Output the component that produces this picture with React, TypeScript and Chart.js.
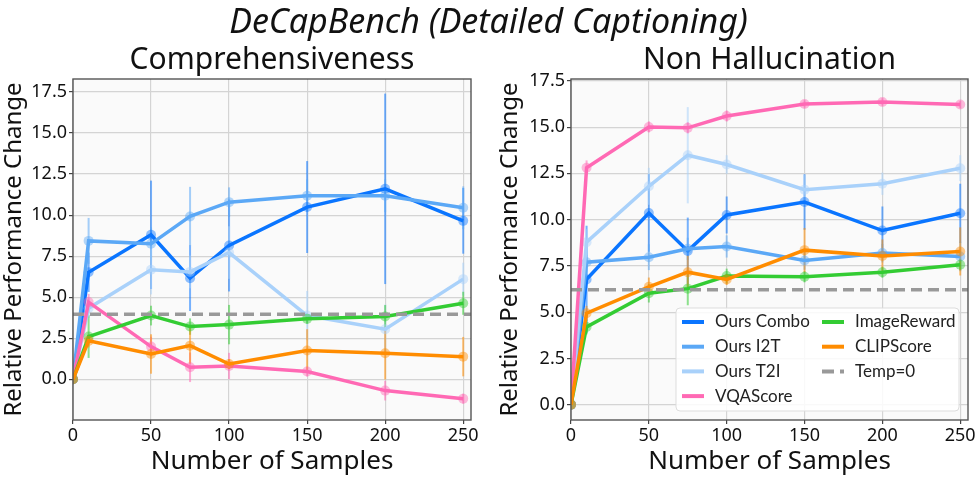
import { useEffect, useRef } from "react";
import { Chart, registerables } from "chart.js";

Chart.register(...registerables);

// ---------------- data ----------------
const SAMPLES = [0, 10, 50, 75, 100, 150, 200, 250];
const X_TICKS = [0, 50, 100, 150, 200, 250];
const Y_TICKS = [0, 2.5, 5, 7.5, 10, 12.5, 15, 17.5];
const SERIES_NAMES = ["Ours Combo", "Ours I2T", "Ours T2I", "VQAScore", "ImageReward", "CLIPScore"];
const TEMP_LABEL = "Temp=0";
const MAIN_TITLE = "DeCapBench (Detailed Captioning)";
const X_TITLE = "Number of Samples";
const Y_TITLE = "Relative Performance Change";

// Comprehensiveness
const COMP_TITLE = "Comprehensiveness";
const COMP_COMBO = [0, 6.52, 8.8, 6.16, 8.15, 10.49, 11.6, 9.65];
const COMP_I2T = [0, 8.43, 8.25, 9.92, 10.79, 11.18, 11.18, 10.45];
const COMP_T2I = [0, 4.33, 6.67, 6.54, 7.72, 3.88, 3.05, 6.1];
const COMP_VQA = [0, 4.7, 1.99, 0.73, 0.81, 0.47, -0.69, -1.18];
const COMP_IR = [0, 2.6, 3.88, 3.21, 3.33, 3.68, 3.82, 4.63];
const COMP_CLIP = [0, 2.34, 1.54, 2.05, 0.93, 1.75, 1.59, 1.38];
const COMP_COMBO_ERR = [0, 1.2, 3.3, 2.0, 2.8, 2.8, 5.8, 2.0];
const COMP_I2T_ERR = [0, 1.4, 1.0, 1.8, 0.9, 1.0, 1.0, 1.3];
const COMP_T2I_ERR = [0, 0.6, 1.5, 1.0, 1.6, 1.5, 1.5, 1.0];
const COMP_VQA_ERR = [0, 0.5, 0.6, 0.9, 0.8, 0.3, 0.6, 0.3];
const COMP_IR_ERR = [0, 1.3, 0.6, 0.5, 1.2, 0.3, 0.7, 0.7];
const COMP_CLIP_ERR = [0, 0.4, 1.2, 1.1, 0.3, 1.3, 1.6, 1.2];
const COMP_TEMP = 3.96;

// Non Hallucination
const HALL_TITLE = "Non Hallucination";
const HALL_COMBO = [0, 6.77, 10.36, 8.31, 10.25, 10.95, 9.41, 10.34];
const HALL_I2T = [0, 7.7, 7.97, 8.42, 8.55, 7.79, 8.19, 8.01];
const HALL_T2I = [0, 8.78, 11.8, 13.48, 12.98, 11.62, 11.94, 12.78];
const HALL_VQA = [0, 12.8, 15.01, 14.96, 15.6, 16.25, 16.36, 16.22];
const HALL_IR = [0, 4.2, 6.02, 6.27, 6.95, 6.91, 7.16, 7.56];
const HALL_CLIP = [0, 4.94, 6.37, 7.16, 6.77, 8.35, 8.03, 8.28];
const HALL_COMBO_ERR = [0, 2.9, 2.1, 1.8, 1.0, 1.5, 1.3, 1.6];
const HALL_I2T_ERR = [0, 0.8, 0.7, 0.6, 0.6, 0.5, 0.5, 0.8];
const HALL_T2I_ERR = [0, 0.7, 1.0, 2.6, 0.5, 0.8, 0.6, 0.7];
const HALL_VQA_ERR = [0, 0.4, 0.3, 0.3, 0.3, 0.2, 0.2, 0.2];
const HALL_IR_ERR = [0, 0.4, 0.5, 0.9, 0.4, 0.3, 0.3, 0.3];
const HALL_CLIP_ERR = [0, 0.4, 0.5, 0.9, 0.3, 1.2, 0.9, 1.3];
const HALL_TEMP = 6.21;

// axis limits
const X_MIN = 0;
const X_MAX = 255;
const COMP_Y_RANGE = [-2.48, 18.29];
const HALL_Y_RANGE = [-0.83, 17.6];

// ---------------- styles ----------------
const COLORS = ["#0a75ff", "#5ba8f6", "#a9d1fa", "#ff69b4", "#33cc33", "#ff8c00"];
const TEMP_COLOR = "#999999";
const FONT = "'Noto Sans', 'Open Sans', sans-serif";
const LEGEND_FONT = "Lato, 'Noto Sans', sans-serif";

function alpha(hex: string, a: number) {
  const n = parseInt(hex.slice(1), 16);
  return `rgba(${(n >> 16) & 255},${(n >> 8) & 255},${n & 255},${a})`;
}

type Panel = {
  series: number[][];
  errors: number[][];
  temp: number;
  yRange: number[];
  legend: boolean;
};

const bgPlugin = {
  id: "bgPlugin",
  beforeDraw(chart: any) {
    const { ctx, chartArea: a } = chart;
    ctx.save();
    ctx.fillStyle = "#fafafa";
    ctx.fillRect(a.left, a.top, a.right - a.left, a.bottom - a.top);
    ctx.restore();
  },
  beforeDatasetsDraw(chart: any) {
    const { ctx, chartArea: a } = chart;
    const xs = chart.scales.x;
    const ys = chart.scales.y;
    ctx.save();
    ctx.beginPath();
    ctx.rect(a.left, a.top, a.right - a.left, a.bottom - a.top);
    ctx.clip();
    chart.data.datasets.forEach((ds: any) => {
      if (!ds.errors) return;
      ctx.strokeStyle = alpha(ds.baseColor, 0.55);
      ctx.lineWidth = 2;
      ds.data.forEach((p: any, i: number) => {
        const e = ds.errors[i];
        if (!e) return;
        const px = xs.getPixelForValue(p.x);
        ctx.beginPath();
        ctx.moveTo(px, ys.getPixelForValue(p.y - e));
        ctx.lineTo(px, ys.getPixelForValue(p.y + e));
        ctx.stroke();
      });
    });
    ctx.restore();
  },
  afterDraw(chart: any) {
    const { ctx, chartArea: a } = chart;
    ctx.save();
    ctx.strokeStyle = "#555555";
    ctx.lineWidth = 1.4;
    ctx.strokeRect(a.left, a.top, a.right - a.left, a.bottom - a.top);
    if (chart.options.plugins.customLegend?.show) {
      const w = 283;
      const h = 103;
      const x0 = a.right - 9 - w;
      const y0 = a.bottom - 9 - h;
      ctx.fillStyle = "rgba(255,255,255,0.85)";
      ctx.strokeStyle = "#dddddd";
      ctx.lineWidth = 1;
      ctx.beginPath();
      (ctx as any).roundRect(x0, y0, w, h, 4);
      ctx.fill();
      ctx.stroke();
      ctx.font = `17px ${LEGEND_FONT}`;
      ctx.textBaseline = "middle";
      ctx.textAlign = "left";
      const entries = chart.data.datasets;
      entries.forEach((ds: any, i: number) => {
        const col = i < 4 ? 0 : 1;
        const row = i < 4 ? i : i - 4;
        const hx = x0 + 6 + col * 140;
        const hy = y0 + 14 + row * 24.7;
        ctx.strokeStyle = ds.baseColor;
        ctx.lineWidth = 4;
        ctx.setLineDash(ds.borderDash && ds.borderDash.length ? [12, 6] : []);
        ctx.beginPath();
        ctx.moveTo(hx, hy);
        ctx.lineTo(hx + 22, hy);
        ctx.stroke();
        ctx.setLineDash([]);
        ctx.fillStyle = "#222";
        ctx.fillText(ds.label, hx + 33, hy);
      });
    }
    ctx.restore();
  },
};

function makeConfig(p: Panel, yWidth: number, padLeft: number, padRight: number): any {
  const datasets: any[] = p.series.map((vals, i) => ({
    label: SERIES_NAMES[i],
    data: SAMPLES.map((x, j) => ({ x, y: vals[j] })),
    errors: p.errors[i],
    baseColor: COLORS[i],
    borderColor: COLORS[i],
    backgroundColor: alpha(COLORS[i], 0.45),
    pointBackgroundColor: alpha(COLORS[i], 0.45),
    pointBorderWidth: 0,
    pointRadius: 5,
    borderWidth: 3.5,
    tension: 0,
    order: 10 - i,
  }));
  datasets.push({
    label: TEMP_LABEL,
    data: [
      { x: X_MIN, y: p.temp },
      { x: X_MAX, y: p.temp },
    ],
    baseColor: TEMP_COLOR,
    borderColor: TEMP_COLOR,
    borderDash: [11, 6],
    borderWidth: 3.5,
    pointRadius: 0,
    order: 0,
  });
  return {
    type: "line",
    data: { datasets },
    plugins: [bgPlugin],
    options: {
      animation: false,
      responsive: false,
      events: [],
      layout: { padding: { top: 79, left: padLeft, right: padRight, bottom: 0 } },
      plugins: {
        legend: { display: false },
        tooltip: { enabled: false },
        customLegend: { show: p.legend },
      },
      scales: {
        x: {
          type: "linear",
          min: X_MIN,
          max: X_MAX,
          afterBuildTicks: (s: any) => {
            s.ticks = X_TICKS.map((v) => ({ value: v }));
          },
          afterFit: (s: any) => {
            s.height = 57;
          },
          ticks: { font: { family: FONT, size: 18 }, color: "#111", padding: 1, maxRotation: 0, callback: (v: any) => String(v) },
          grid: { color: "#d4d4d4", lineWidth: 1.2, tickColor: "#444", tickLength: 4 },
          border: { display: false },
          title: {
            display: true,
            text: X_TITLE,
            font: { family: FONT, size: 26, lineHeight: 1 },
            color: "#111",
            padding: { top: 0, bottom: 2 },
          },
        },
        y: {
          type: "linear",
          min: p.yRange[0],
          max: p.yRange[1],
          afterBuildTicks: (s: any) => {
            s.ticks = Y_TICKS.map((v) => ({ value: v }));
          },
          afterFit: (s: any) => {
            s.width = yWidth;
          },
          ticks: { font: { family: FONT, size: 18 }, color: "#111", padding: 2, callback: (v: any) => Number(v).toFixed(1) },
          grid: { color: "#d4d4d4", lineWidth: 1.2, tickColor: "#444", tickLength: 4 },
          border: { display: false },
          title: {
            display: true,
            text: Y_TITLE,
            font: { family: FONT, size: 24, lineHeight: 1.2 },
            color: "#111",
            padding: { top: 0, bottom: 0 },
          },
        },
      },
    },
  };
}

const COMP_PANEL: Panel = {
  series: [COMP_COMBO, COMP_I2T, COMP_T2I, COMP_VQA, COMP_IR, COMP_CLIP],
  errors: [COMP_COMBO_ERR, COMP_I2T_ERR, COMP_T2I_ERR, COMP_VQA_ERR, COMP_IR_ERR, COMP_CLIP_ERR],
  temp: COMP_TEMP,
  yRange: COMP_Y_RANGE,
  legend: false,
};
const HALL_PANEL: Panel = {
  series: [HALL_COMBO, HALL_I2T, HALL_T2I, HALL_VQA, HALL_IR, HALL_CLIP],
  errors: [HALL_COMBO_ERR, HALL_I2T_ERR, HALL_T2I_ERR, HALL_VQA_ERR, HALL_IR_ERR, HALL_CLIP_ERR],
  temp: HALL_TEMP,
  yRange: HALL_Y_RANGE,
  legend: true,
};

export default function App() {
  const leftRef = useRef<HTMLCanvasElement>(null);
  const rightRef = useRef<HTMLCanvasElement>(null);
  useEffect(() => {
    const c1 = new Chart(leftRef.current!, makeConfig(COMP_PANEL, 73, 0, 17));
    const c2 = new Chart(rightRef.current!, makeConfig(HALL_PANEL, 75, 8, 9));
    return () => {
      c1.destroy();
      c2.destroy();
    };
  }, []);
  const titleStyle: any = {
    position: "absolute",
    top: 40,
    fontFamily: FONT,
    fontSize: 30,
    lineHeight: "36px",
    color: "#111",
    textAlign: "center",
    whiteSpace: "nowrap",
  };
  return (
    <div style={{ position: "fixed", left: 0, top: 0, width: 977, height: 477, background: "#fff", overflow: "hidden" }}>
      <canvas ref={leftRef} width={488} height={477} style={{ position: "absolute", left: 0, top: 0 }} />
      <canvas ref={rightRef} width={489} height={477} style={{ position: "absolute", left: 488, top: 0 }} />
      <div
        style={{
          position: "absolute",
          top: 0,
          left: 0,
          width: 977,
          textAlign: "center",
          fontFamily: FONT,
          fontStyle: "italic",
          fontSize: 34,
          lineHeight: "40px",
          color: "#111",
        }}
      >
        {MAIN_TITLE}
      </div>
      <div style={{ ...titleStyle, left: 73, width: 398 }}>{COMP_TITLE}</div>
      <div style={{ ...titleStyle, left: 571, width: 397 }}>{HALL_TITLE}</div>
    </div>
  );
}
